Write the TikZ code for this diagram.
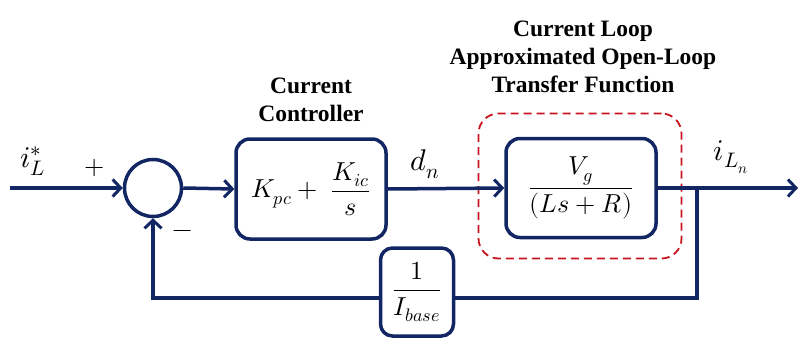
\documentclass[tikz,border=0pt]{standalone}
\usepackage{amsmath}
\usepackage{fontspec}
\usepackage{unicode-math}
\newfontfamily\titlefont{Liberation Serif}[BoldFont={Liberation Serif Bold}]
\usetikzlibrary{arrows.meta}
\definecolor{navy}{RGB}{18,38,100}
\definecolor{dred}{RGB}{200,20,30}
\begin{document}
\begin{tikzpicture}[x=1pt,y=-1pt,
  line/.style={draw=navy,line width=3.5pt},
  arr/.style={line,-{Straight Barb[length=8pt,width=17pt,line width=3pt]}},
  blk/.style={draw=navy,line width=3.5pt,rounded corners=14pt,fill=white,inner sep=0pt},
  ttl/.style={font=\titlefont\bfseries\fontsize{23.5}{28}\selectfont,align=center},
  mth/.style={font=\fontsize{26}{30}\selectfont},
  lbl/.style={font=\fontsize{30}{32}\selectfont}]
\useasboundingbox (0,0) rectangle (800,345);
% dashed frame
\node[draw=dred,line width=1.8pt,dash pattern=on 8pt off 5pt,rounded corners=20pt,
      minimum width=203pt,minimum height=145pt] (frame) at (580,186) {};
% blocks
\node[circle,draw=navy,line width=3.5pt,minimum size=57pt,inner sep=0pt] (sum) at (153,188) {};
\node[blk,mth,minimum width=150pt,minimum height=100pt] (ctrl) at (311,189) {$K_{pc}+\;\dfrac{K_{ic}}{s}$};
\node[blk,mth,minimum width=150pt,minimum height=99pt] (plant) at (581,188) {$\dfrac{V_g}{(Ls+R)}$};
\node[blk,mth,rounded corners=12pt,minimum width=73pt,minimum height=88pt] (fb) at (417,292) {$\dfrac{1}{I_{base}}$};
% titles
\node[ttl] (t1) at (311,100) {Current\\Controller};
\node[ttl] (t2) at (583,57) {Current Loop\\Approximated Open-Loop\\Transfer Function};
% coordinates
\coordinate (in) at (10,188);
\coordinate (br) at (697,188);
\coordinate (out) at (798,188);
\coordinate (fbr) at (697,298);
\coordinate (fbl) at (153,298);
% connectors
\draw[arr] (in) -- (sum.west);
\draw[arr] (sum.east) -- (ctrl.west);
\draw[arr] (ctrl.east) -- (plant.west);
\draw[arr] (plant.east) -- (out);
\draw[line] (br) -- (fbr) -- (fbr -| fb.east);
\draw[arr] (fb.west |- fbl) -- (fbl) -- (sum.south);
% labels
\node[lbl] (lin) at (33,161) {$i_L^*$};
\node[font=\fontsize{26}{28}\selectfont] (lp) at (95,168) {$+$};
\node[font=\fontsize{26}{28}\selectfont] (lm) at (183,234) {$-$};
\node[lbl] (ld) at (425,164) {$d_n$};
\node[lbl] (lo) at (731,157) {$i_{L_n}$};
\end{tikzpicture}
\end{document}
